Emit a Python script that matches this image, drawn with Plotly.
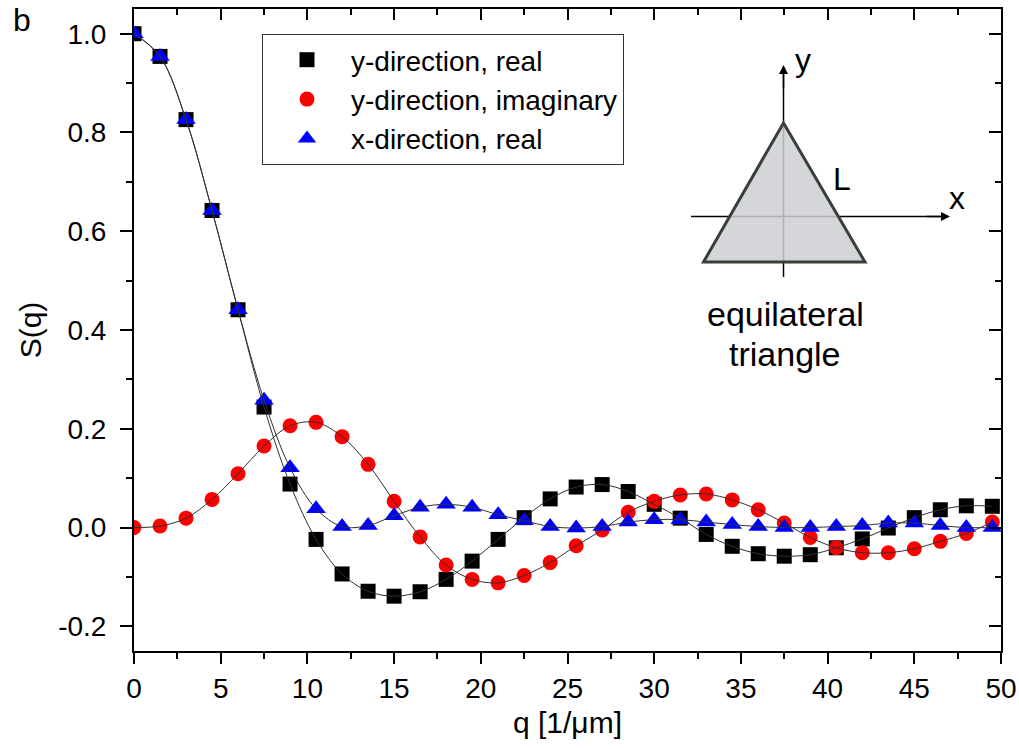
import plotly.graph_objects as go

# ---------------- data ----------------
q = [0, 1.5, 3, 4.5, 6, 7.5, 9, 10.5, 12, 13.5, 15, 16.5, 18, 19.5, 21, 22.5,
     24, 25.5, 27, 28.5, 30, 31.5, 33, 34.5, 36, 37.5, 39, 40.5, 42, 43.5,
     45, 46.5, 48, 49.5]

y_real = [1.0, 0.954, 0.826, 0.642, 0.441, 0.244, 0.088, -0.024, -0.094, -0.129,
          -0.139, -0.130, -0.105, -0.068, -0.024, 0.020, 0.058, 0.082, 0.087, 0.073,
          0.047, 0.019, -0.014, -0.038, -0.053, -0.058, -0.055, -0.041, -0.023, -0.001,
          0.020, 0.036, 0.044, 0.043]

y_imag = [0.0, 0.003, 0.019, 0.057, 0.109, 0.165, 0.206, 0.213, 0.184, 0.128,
          0.053, -0.019, -0.076, -0.105, -0.112, -0.097, -0.071, -0.037, -0.005, 0.031,
          0.053, 0.066, 0.068, 0.056, 0.036, 0.009, -0.020, -0.041, -0.051, -0.051,
          -0.043, -0.028, -0.012, 0.011]

x_real = [1.0, 0.954, 0.826, 0.642, 0.441, 0.258, 0.121, 0.038, 0.002, 0.004,
          0.024, 0.041, 0.047, 0.041, 0.026, 0.014, 0.002, -0.001, 0.002, 0.011,
          0.016, 0.016, 0.011, 0.006, 0.002, 0.0, 0.0, 0.002, 0.004, 0.009,
          0.009, 0.004, 0.0, 0.0]

series_names = ["y-direction, real", "y-direction, imaginary", "x-direction, real"]

x_ticks = [0, 5, 10, 15, 20, 25, 30, 35, 40, 45, 50]
x_ticktext = ["0", "5", "10", "15", "20", "25", "30", "35", "40", "45", "50"]
y_ticks = [-0.2, 0.0, 0.2, 0.4, 0.6, 0.8, 1.0]
y_ticktext = ["-0.2", "0.0", "0.2", "0.4", "0.6", "0.8", "1.0"]

# ---------------- layout constants ----------------
W, H = 1019, 749
ML, MR, MT, MB = 134, 18, 9, 98
PW, PH = W - ML - MR, H - MT - MB
FONT = "Arial, 'Liberation Sans', Helvetica, sans-serif"


def px(xp):
    return (xp - ML) / PW


def py(yp):
    return (H - MB - yp) / PH


fig = go.Figure()

styles = [
    dict(symbol="square", color="black", size=15),
    dict(symbol="circle", color="#ff0000", size=15),
    dict(symbol="triangle-up", color="#0000ff", size=17),
]
ys = [y_real, y_imag, x_real]

for name, yv, st in zip(series_names, ys, styles):
    fig.add_trace(go.Scatter(
        x=q, y=yv, mode="markers", name=name,
        marker=dict(symbol=st["symbol"], color=st["color"], size=st["size"],
                    line=dict(width=0)),
    ))

for yv in ys:
    fig.add_trace(go.Scatter(
        x=q, y=yv, mode="lines", showlegend=False, hoverinfo="skip",
        line=dict(color="#303030", width=1, shape="spline", smoothing=1.0),
    ))

# invisible trace to anchor the mirrored (top/right) axes
fig.add_trace(go.Scatter(x=[q[0]], y=[y_real[0]], xaxis="x2", yaxis="y2",
                         mode="markers", marker=dict(opacity=0),
                         showlegend=False, hoverinfo="skip"))

tickfont = dict(family=FONT, size=28, color="black")

fig.update_layout(
    width=W, height=H,
    margin=dict(l=ML, r=MR, t=MT, b=MB, autoexpand=False),
    paper_bgcolor="white", plot_bgcolor="white",
    font=dict(family=FONT, color="black"),
    showlegend=True,
    legend=dict(
        x=px(262), y=py(34), xanchor="left", yanchor="top",
        bordercolor="#333333", borderwidth=1, bgcolor="white",
        font=dict(family=FONT, size=28, color="black"),
        itemwidth=78, tracegroupgap=0,
    ),
    xaxis=dict(
        range=[0, 50], tickvals=x_ticks, ticktext=x_ticktext, automargin=False,
        ticks="outside", ticklen=11, tickwidth=2, tickcolor="black",
        minor=dict(ticks="outside", ticklen=6, tickwidth=2, dtick=2.5, tick0=0, tickcolor="black"),
        showline=True, linewidth=2, linecolor="black",
        showgrid=False, zeroline=False, tickfont=tickfont,
        title=dict(text="q [1/\u03bcm]", font=dict(family=FONT, size=30), standoff=9),
    ),
    yaxis=dict(
        range=[-0.25, 1.05], tickvals=y_ticks, ticktext=y_ticktext, automargin=False,
        ticks="outside", ticklen=12, tickwidth=2, tickcolor="black",
        minor=dict(ticks="outside", ticklen=6, tickwidth=2, dtick=0.1, tick0=0, tickcolor="black"),
        showline=True, linewidth=2, linecolor="black", ticklabelstandoff=8,
        showgrid=False, zeroline=False, tickfont=tickfont,
        title=dict(text="S(q)", font=dict(family=FONT, size=30), standoff=8),
    ),
    xaxis2=dict(
        overlaying="x", side="top", range=[0, 50], tickvals=x_ticks, automargin=False,
        ticks="inside", ticklen=11, tickwidth=2, tickcolor="black",
        minor=dict(ticks="inside", ticklen=6, tickwidth=2, dtick=2.5, tick0=0, tickcolor="black"),
        showticklabels=False, showline=True, linewidth=2, linecolor="black",
        showgrid=False, zeroline=False,
    ),
    yaxis2=dict(
        overlaying="y", side="right", range=[-0.25, 1.05], tickvals=y_ticks, automargin=False,
        ticks="inside", ticklen=12, tickwidth=2, tickcolor="black",
        minor=dict(ticks="inside", ticklen=6, tickwidth=2, dtick=0.1, tick0=0, tickcolor="black"),
        showticklabels=False, showline=True, linewidth=2, linecolor="black",
        showgrid=False, zeroline=False,
    ),
)

# ---------------- inset: equilateral triangle ----------------
shapes = []
shapes.append(dict(type="line", xref="paper", yref="paper",
                   x0=px(783.5), y0=py(277), x1=px(783.5), y1=py(68),
                   line=dict(color="black", width=1.5), layer="above"))
shapes.append(dict(type="line", xref="paper", yref="paper",
                   x0=px(691), y0=py(216.5), x1=px(947), y1=py(216.5),
                   line=dict(color="black", width=1.5), layer="above"))
tri = "M {:.5f} {:.5f} L {:.5f} {:.5f} L {:.5f} {:.5f} Z".format(
    px(783.5), py(123), px(703.5), py(262), px(865), py(262))
shapes.append(dict(type="path", xref="paper", yref="paper", path=tri,
                   fillcolor="rgba(205,207,212,0.85)",
                   line=dict(color="#394039", width=3), layer="above"))
fig.update_layout(shapes=shapes)

annotations = [
    dict(text="b", xref="paper", yref="paper", x=px(22), y=py(20),
         showarrow=False, font=dict(family=FONT, size=32), xanchor="center", yanchor="middle"),
    dict(text="y", xref="paper", yref="paper", x=px(803), y=py(60),
         showarrow=False, font=dict(family=FONT, size=32), xanchor="center", yanchor="middle"),
    dict(text="x", xref="paper", yref="paper", x=px(957), y=py(198),
         showarrow=False, font=dict(family=FONT, size=32), xanchor="center", yanchor="middle"),
    dict(text="L", xref="paper", yref="paper", x=px(842), y=py(179),
         showarrow=False, font=dict(family=FONT, size=32), xanchor="center", yanchor="middle"),
    dict(text="equilateral", xref="paper", yref="paper", x=px(785), y=py(314),
         showarrow=False, font=dict(family=FONT, size=34), xanchor="center", yanchor="middle"),
    dict(text="triangle", xref="paper", yref="paper", x=px(785), y=py(354),
         showarrow=False, font=dict(family=FONT, size=34), xanchor="center", yanchor="middle"),
    dict(text="", xref="paper", yref="paper", x=px(783.5), y=py(65), ax=0, ay=25,
         showarrow=True, arrowhead=2, arrowsize=1.2, arrowwidth=1.5, arrowcolor="black"),
    dict(text="", xref="paper", yref="paper", x=px(950), y=py(216.5), ax=-25, ay=0,
         showarrow=True, arrowhead=2, arrowsize=1.2, arrowwidth=1.5, arrowcolor="black"),
]
fig.update_layout(annotations=annotations)

fig.write_html("out.html", config={"displayModeBar": False},
               post_script="document.body.style.margin='0';")
